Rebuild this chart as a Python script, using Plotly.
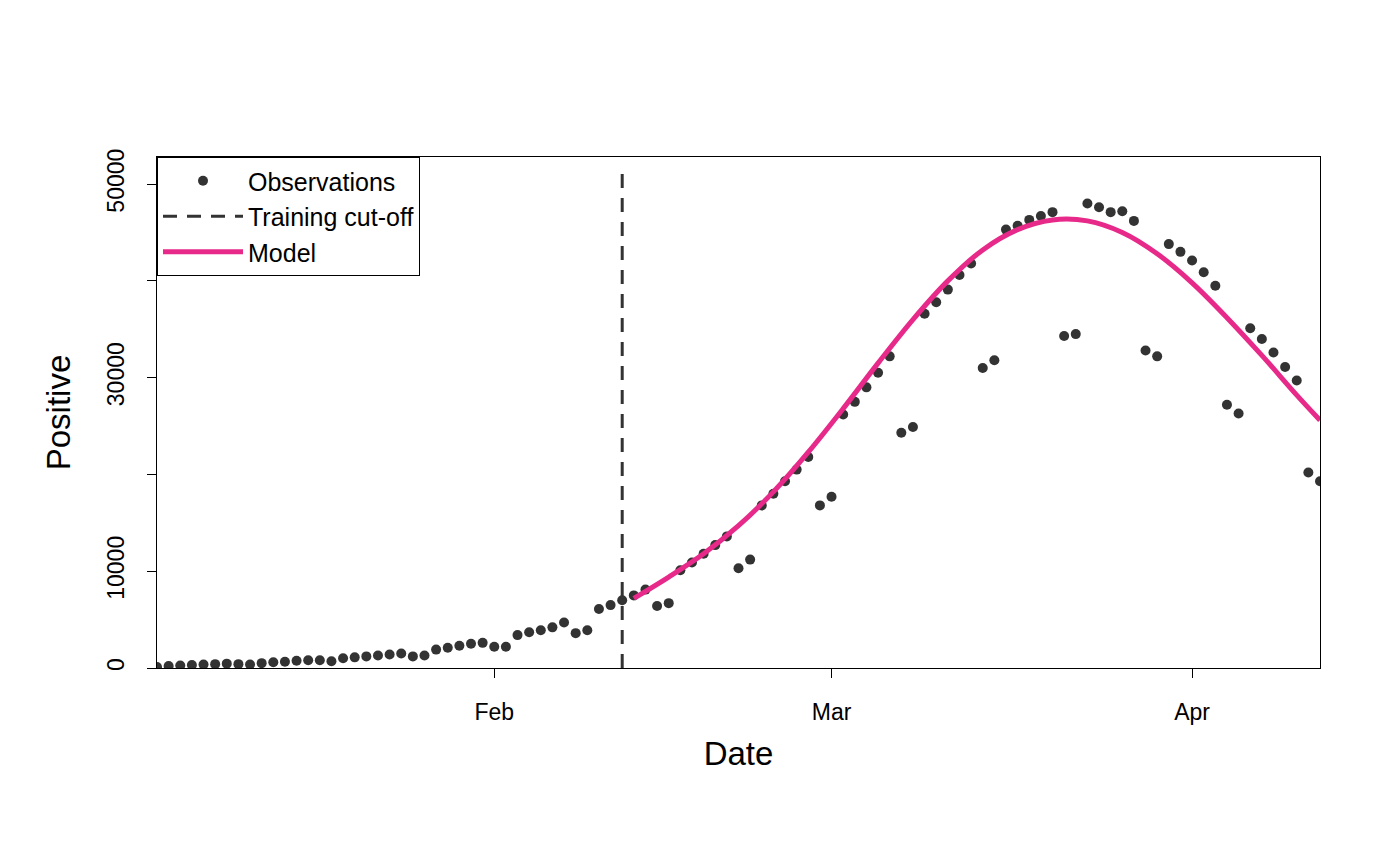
import plotly.graph_objects as go
import pandas as pd

start_date = "2024-01-03"
obs_values = [100,200,250,300,350,400,450,400,350,500,600,650,750,800,800,700,
              1000,1100,1200,1300,1400,1500,1200,1300,
              1900,2100,2300,2500,2600,2200,2200,3400,3700,3900,
              4200,4700,3600,3900,6100,6500,7000,7500,8100,6400,
              6700,10100,10900,11800,12700,13600,10300,11200,16800,18000,
              19300,20500,21800,16800,17700,26200,27500,29000,30500,32200,
              24300,24900,36600,37800,39100,40600,41800,31000,31800,45300,
              45700,46300,46700,47100,34300,34500,48000,47600,47100,47200,
              46200,32800,32200,43800,43000,42100,40900,39500,27200,26300,
              35100,34000,32600,31100,29700,20200,19300]
obs_dates = pd.date_range(start_date, periods=len(obs_values), freq="D")

cutoff_date = "2024-02-12"
cutoff_y = [0, 51200]

model_dates = ["2024-02-13","2024-02-16","2024-02-19","2024-02-22","2024-02-25","2024-02-28",
               "2024-03-02","2024-03-05","2024-03-08","2024-03-11","2024-03-14","2024-03-17",
               "2024-03-20","2024-03-23","2024-03-26","2024-03-29","2024-04-01","2024-04-04",
               "2024-04-07","2024-04-10","2024-04-12"]
model_values = [7200,9400,11800,14700,18200,22300,26800,31500,36000,40000,43200,45300,
                46300,46200,45000,42800,39800,36200,32300,28200,25600]

x_ticks = ["2024-02-01","2024-03-01","2024-04-01"]
x_tick_labels = ["Feb","Mar","Apr"]
y_ticks = [0,10000,20000,30000,40000,50000]
y_tick_labels = ["0","10000","","30000","","50000"]

fig = go.Figure()
fig.add_trace(go.Scatter(x=obs_dates, y=obs_values, mode="markers", name="Observations",
                         marker=dict(size=10, color="#333333")))
fig.add_trace(go.Scatter(x=[cutoff_date, cutoff_date], y=cutoff_y, mode="lines",
                         name="Training cut-off", line=dict(color="#333333", width=3, dash="14px,10px")))
fig.add_trace(go.Scatter(x=model_dates, y=model_values, mode="lines", name="Model",
                         line=dict(color="#E7298A", width=5, shape="spline")))

font = "Liberation Sans, Arial, sans-serif"
fig.update_layout(
    width=1400, height=865, plot_bgcolor="white", paper_bgcolor="white",
    margin=dict(l=149, r=88, t=149, b=205),
    font=dict(family=font, color="black", size=20),
    legend=dict(x=0, y=1, xanchor="left", yanchor="top", bordercolor="black", borderwidth=1,
                bgcolor="white", font=dict(size=25), itemwidth=80, tracegroupgap=0,
                indentation=0, entrywidth=230),
    xaxis=dict(range=[obs_dates[0], obs_dates[-1]], tickvals=x_ticks, ticktext=x_tick_labels,
               showgrid=False, zeroline=False, showline=True, linecolor="black", mirror=True,
               ticks="outside", ticklen=9, tickcolor="black", tickfont=dict(size=23),
               ticklabelstandoff=14,
               title=dict(text="Date", font=dict(size=33), standoff=18)),
    yaxis=dict(range=[0, 52800], tickvals=y_ticks, ticktext=y_tick_labels, tickangle=-90,
               showgrid=False, zeroline=False, showline=True, linecolor="black", mirror=True,
               ticks="outside", ticklen=9, tickcolor="black", tickfont=dict(size=23),
               ticklabelstandoff=14,
               title=dict(text="Positive", font=dict(size=33), standoff=22)),
)
fig.write_html("out.html")
